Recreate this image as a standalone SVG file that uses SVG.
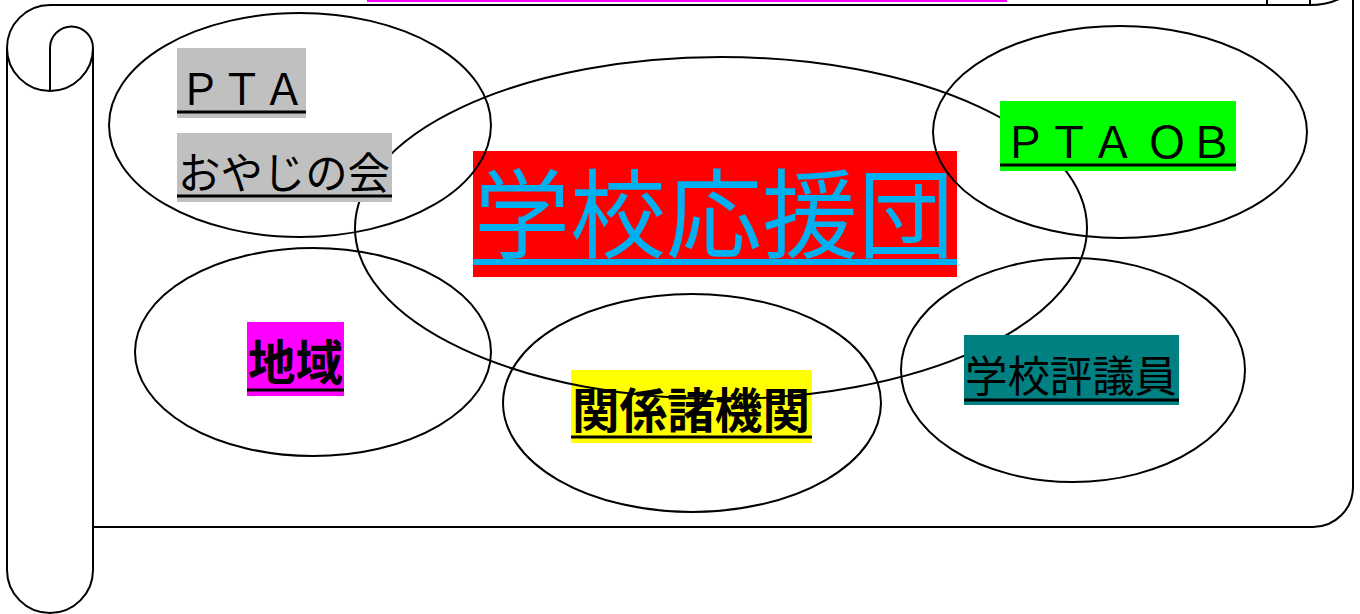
<svg xmlns="http://www.w3.org/2000/svg" width="1360" height="614" viewBox="0 0 1360 614">
<style>
.ln{fill:none;stroke:#000;stroke-width:2}
.el{fill:none;stroke:#000;stroke-width:2}
.t{font-family:"Noto Sans CJK JP","Noto Sans CJK SC",sans-serif;fill:#000}
.ul{stroke:#000;stroke-width:3}
</style>
<rect width="1360" height="614" fill="#fff"/>
<g id="scroll">
<path class="ln" d="M1353 -20 V487 A40 40 0 0 1 1313 527 H93"/>
<path class="ln" d="M1310 5 H50 A43 43 0 1 0 93 48"/>
<path class="ln" d="M50 91 V48 A21.5 21.5 0 0 1 93 48 V570"/>
<path class="ln" d="M7 48 V570 A43 43 0 0 0 93 570"/>
<path class="ln" d="M1267 5 V-10 M1310 5 V-10 M1310 5 Q1332 5 1348 -6"/>
<rect x="367" y="-10" width="640" height="12" fill="#ff00ff"/>
</g>
<g id="node-ouendan">
<rect x="473" y="151" width="484" height="126" fill="#ff0000"/>
<text class="t" x="474" y="250" font-size="97" textLength="480" lengthAdjust="spacingAndGlyphs" style="fill:#00b0f0">学校応援団</text>
<line x1="473" y1="262" x2="957" y2="262" stroke="#00b0f0" stroke-width="6"/>
</g>
<g id="node-kankei">
<rect x="571" y="370" width="241" height="73" fill="#ffff00"/>
<text class="t" x="572" y="428" font-size="48" font-weight="700" textLength="238" lengthAdjust="spacingAndGlyphs">関係諸機関</text>
<line class="ul" x1="571" y1="437" x2="812" y2="437"/>
</g>
<g id="ellipses">
<ellipse class="el" cx="300" cy="125" rx="191" ry="112"/>
<ellipse class="el" cx="721" cy="228" rx="366" ry="171"/>
<ellipse class="el" cx="1120" cy="132" rx="187" ry="106"/>
<ellipse class="el" cx="313" cy="352" rx="178" ry="104"/>
<ellipse class="el" cx="692" cy="403" rx="189" ry="109"/>
<ellipse class="el" cx="1073" cy="370" rx="172" ry="112"/>
</g>
<g id="node-pta">
<rect x="177" y="48" width="129" height="70" fill="#c0c0c0"/>
<text class="t" x="179" y="105" font-size="43" textLength="126" lengthAdjust="spacingAndGlyphs">ＰＴＡ</text>
<line class="ul" x1="177" y1="112" x2="306" y2="112"/>
</g>
<g id="node-oyaji">
<rect x="177" y="133" width="215" height="69" fill="#c0c0c0"/>
<text class="t" x="178" y="189" font-size="43" textLength="212" lengthAdjust="spacingAndGlyphs">おやじの会</text>
<line class="ul" x1="177" y1="196" x2="392" y2="196"/>
</g>
<g id="node-ptaob">
<rect x="1000" y="101" width="236" height="70" fill="#00ff00"/>
<text class="t" x="1003" y="158" font-size="43" textLength="230" lengthAdjust="spacingAndGlyphs">ＰＴＡ ＯＢ</text>
<line class="ul" x1="1000" y1="165" x2="1236" y2="165"/>
</g>
<g id="node-chiiki">
<rect x="247" y="322" width="97" height="74" fill="#ff00ff"/>
<text class="t" x="248" y="380" font-size="48" font-weight="700" textLength="95" lengthAdjust="spacingAndGlyphs">地域</text>
<line class="ul" x1="247" y1="390" x2="344" y2="390"/>
</g>
<g id="node-hyogiin">
<rect x="964" y="335" width="215" height="70" fill="#008080"/>
<text class="t" x="965" y="392" font-size="43" textLength="212" lengthAdjust="spacingAndGlyphs">学校評議員</text>
<line class="ul" x1="964" y1="400" x2="1179" y2="400"/>
</g>
<g id="connectors"/>
</svg>
